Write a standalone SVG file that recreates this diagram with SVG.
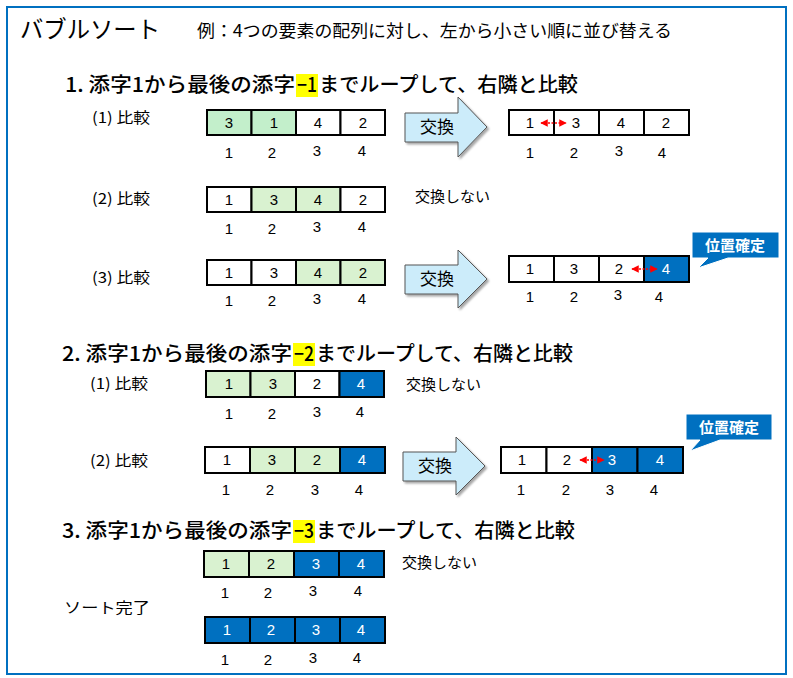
<svg xmlns="http://www.w3.org/2000/svg" width="793" height="678" viewBox="0 0 793 678">
<defs>
<style>
.jp{font-family:"Noto Sans CJK JP","Liberation Sans",sans-serif;fill:#000}
.num{font-family:"Liberation Sans",Arial,sans-serif;font-size:15px;text-anchor:middle;fill:#000}
.wnum{font-family:"Liberation Sans",Arial,sans-serif;font-size:15px;text-anchor:middle;fill:#fff}
.cw{fill:#fff;stroke:#000;stroke-width:2}
.cg{fill:#D9F2D0;stroke:#000;stroke-width:2}
.cg2{fill:#C3EFCB;stroke:#000;stroke-width:2}
.cb{fill:#0070C0;stroke:#000;stroke-width:2}
.arrow{fill:#CCECFA;stroke:#555;stroke-width:1}
.lbl{font-family:"Noto Sans CJK JP","Liberation Sans",sans-serif;font-size:15px;fill:#000}
.head{font-family:"Noto Sans CJK JP","Liberation Sans",sans-serif;font-size:20px;font-weight:500;fill:#000}
.hl{fill:#FFFF00}
.call{fill:#0070C0;stroke:#fff;stroke-width:1}
.calltxt{font-family:"Noto Sans CJK JP","Liberation Sans",sans-serif;font-size:15px;font-weight:bold;fill:#fff;text-anchor:middle}
.swap{stroke:#FF0000;stroke-width:1.5;stroke-dasharray:2 1.5;marker-start:url(#rh);marker-end:url(#rh)}
</style>
<marker id="rh" viewBox="0 0 10 10" refX="9" refY="5" markerWidth="5" markerHeight="5" orient="auto-start-reverse" markerUnits="strokeWidth">
<path d="M0,0 L10,5 L0,10 z" fill="#FF0000"/>
</marker>
<filter id="sh" x="-10%" y="-10%" width="130%" height="130%">
<feDropShadow dx="2" dy="2" stdDeviation="1" flood-color="#000" flood-opacity="0.35"/>
</filter>
</defs>
<rect x="0" y="0" width="793" height="678" fill="#fff"/>
<rect x="7" y="7" width="779" height="667" fill="none" stroke="#0070C0" stroke-width="2"/>

<g id="title">
<text class="jp" x="20" y="38" font-size="24" textLength="140" lengthAdjust="spacingAndGlyphs">バブルソート</text>
<text class="jp" x="197" y="37" font-size="17" textLength="475" lengthAdjust="spacingAndGlyphs">例：4つの要素の配列に対し、左から小さい順に並び替える</text>
</g>

<!-- Heading 1 -->
<g id="heading1">
<rect class="hl" x="296" y="74" width="22" height="23"/>
<text class="head" x="65" y="92" textLength="230" lengthAdjust="spacingAndGlyphs">1. 添字1から最後の添字</text>
<text class="head" x="297" y="92" textLength="20" lengthAdjust="spacingAndGlyphs">−1</text>
<text class="head" x="319" y="92" textLength="259" lengthAdjust="spacingAndGlyphs">までループして、右隣と比較</text>
</g>

<!-- Row 1-1 -->
<g id="r11-label"><text class="lbl" x="92" y="123" textLength="58" lengthAdjust="spacingAndGlyphs">(1) 比較</text></g>
<g id="r11-array">
<rect class="cg2" x="207" y="110" width="44.5" height="25"/>
<rect class="cg2" x="251.5" y="110" width="44.5" height="25"/>
<rect class="cw" x="296" y="110" width="44.5" height="25"/>
<rect class="cw" x="340.5" y="110" width="44.5" height="25"/>
<text class="num" x="229" y="128">3</text><text class="num" x="274" y="128">1</text><text class="num" x="318" y="128">4</text><text class="num" x="363" y="128">2</text>
<text class="num" x="229" y="158">1</text><text class="num" x="272" y="158">2</text><text class="num" x="317" y="156">3</text><text class="num" x="362" y="156">4</text>
</g>
<g id="r11-swap">
<polygon class="arrow" filter="url(#sh)" points="405,113 458,113 458,97 487,127 458,157 458,142 405,142"/>
<text class="jp" x="437" y="133" font-size="17" text-anchor="middle">交換</text>
</g>
<g id="r11-result">
<rect class="cw" x="509" y="110" width="45" height="25"/>
<rect class="cw" x="554" y="110" width="45" height="25"/>
<rect class="cw" x="599" y="110" width="45" height="25"/>
<rect class="cw" x="644" y="110" width="45" height="25"/>
<text class="num" x="530" y="128">1</text><text class="num" x="576" y="128">3</text><text class="num" x="621" y="128">4</text><text class="num" x="666" y="128">2</text>
<text class="num" x="530" y="158">1</text><text class="num" x="574" y="158">2</text><text class="num" x="619" y="156">3</text><text class="num" x="662" y="158">4</text>
</g>

<!-- Row 1-2 -->
<g id="r12-label"><text class="lbl" x="92" y="204" textLength="58" lengthAdjust="spacingAndGlyphs">(2) 比較</text></g>
<g id="r12-array">
<rect class="cw" x="207" y="187" width="44.5" height="25"/>
<rect class="cg" x="251.5" y="187" width="44.5" height="25"/>
<rect class="cg" x="296" y="187" width="44.5" height="25"/>
<rect class="cw" x="340.5" y="187" width="44.5" height="25"/>
<text class="num" x="229" y="205">1</text><text class="num" x="274" y="205">3</text><text class="num" x="318" y="205">4</text><text class="num" x="363" y="205">2</text>
<text class="num" x="229" y="234">1</text><text class="num" x="272" y="234">2</text><text class="num" x="317" y="232">3</text><text class="num" x="362" y="232">4</text>
</g>
<g id="r12-note"><text class="lbl" x="415" y="202" textLength="75" lengthAdjust="spacingAndGlyphs">交換しない</text></g>

<!-- Row 1-3 -->
<g id="r13-label"><text class="lbl" x="92" y="283" textLength="58" lengthAdjust="spacingAndGlyphs">(3) 比較</text></g>
<g id="r13-array">
<rect class="cw" x="207" y="260" width="44.5" height="25"/>
<rect class="cw" x="251.5" y="260" width="44.5" height="25"/>
<rect class="cg" x="296" y="260" width="44.5" height="25"/>
<rect class="cg" x="340.5" y="260" width="44.5" height="25"/>
<text class="num" x="229" y="278">1</text><text class="num" x="274" y="278">3</text><text class="num" x="318" y="278">4</text><text class="num" x="363" y="278">2</text>
<text class="num" x="229" y="306">1</text><text class="num" x="272" y="306">2</text><text class="num" x="317" y="304">3</text><text class="num" x="362" y="304">4</text>
</g>
<g id="r13-swap">
<polygon class="arrow" filter="url(#sh)" points="405,265 458,265 458,250 487,279 458,308 458,294 405,294"/>
<text class="jp" x="437" y="285" font-size="17" text-anchor="middle">交換</text>
</g>
<g id="r13-result">
<rect class="cw" x="509" y="256" width="45" height="26"/>
<rect class="cw" x="554" y="256" width="45" height="26"/>
<rect class="cw" x="599" y="256" width="45" height="26"/>
<rect class="cb" x="644" y="256" width="45" height="26"/>
<text class="num" x="530" y="274">1</text><text class="num" x="574" y="274">3</text><text class="num" x="619" y="274">2</text><text class="wnum" x="666" y="274">4</text>
<text class="num" x="530" y="302">1</text><text class="num" x="574" y="302">2</text><text class="num" x="618" y="300">3</text><text class="num" x="659" y="302">4</text>
</g>
<g id="r13-callout">
<path class="call" d="M692,232 H779 V258 H728 L698,268 L708,258 H692 Z"/>
<text class="calltxt" x="735" y="251">位置確定</text>
</g>

<!-- Heading 2 -->
<g id="heading2">
<rect class="hl" x="293" y="343" width="22" height="23"/>
<text class="head" x="62" y="361" textLength="230" lengthAdjust="spacingAndGlyphs">2. 添字1から最後の添字</text>
<text class="head" x="294" y="361" textLength="20" lengthAdjust="spacingAndGlyphs">−2</text>
<text class="head" x="316" y="361" textLength="257" lengthAdjust="spacingAndGlyphs">までループして、右隣と比較</text>
</g>

<!-- Row 2-1 -->
<g id="r21-label"><text class="lbl" x="90" y="389" textLength="58" lengthAdjust="spacingAndGlyphs">(1) 比較</text></g>
<g id="r21-array">
<rect class="cg" x="206" y="371" width="44.5" height="26"/>
<rect class="cg" x="250.5" y="371" width="44.5" height="26"/>
<rect class="cw" x="295" y="371" width="44.5" height="26"/>
<rect class="cb" x="339.5" y="371" width="44.5" height="26"/>
<text class="num" x="229" y="389">1</text><text class="num" x="273" y="389">3</text><text class="num" x="317" y="389">2</text><text class="wnum" x="361" y="389">4</text>
<text class="num" x="229" y="419">1</text><text class="num" x="272" y="419">2</text><text class="num" x="317" y="417">3</text><text class="num" x="360" y="417">4</text>
</g>
<g id="r21-note"><text class="lbl" x="406" y="390" textLength="75" lengthAdjust="spacingAndGlyphs">交換しない</text></g>

<!-- Row 2-2 -->
<g id="r22-label"><text class="lbl" x="90" y="466" textLength="58" lengthAdjust="spacingAndGlyphs">(2) 比較</text></g>
<g id="r22-array">
<rect class="cw" x="205" y="447" width="45" height="26"/>
<rect class="cg" x="250" y="447" width="45" height="26"/>
<rect class="cg" x="295" y="447" width="45" height="26"/>
<rect class="cb" x="340" y="447" width="45" height="26"/>
<text class="num" x="227" y="465">1</text><text class="num" x="272" y="465">3</text><text class="num" x="317" y="465">2</text><text class="wnum" x="362" y="465">4</text>
<text class="num" x="226" y="495">1</text><text class="num" x="270" y="495">2</text><text class="num" x="315" y="495">3</text><text class="num" x="359" y="495">4</text>
</g>
<g id="r22-swap">
<polygon class="arrow" filter="url(#sh)" points="403,452 456,452 456,437 485,466 456,495 456,481 403,481"/>
<text class="jp" x="435" y="472" font-size="17" text-anchor="middle">交換</text>
</g>
<g id="r22-result">
<rect class="cw" x="501" y="447" width="45.5" height="26"/>
<rect class="cw" x="546.5" y="447" width="45.5" height="26"/>
<rect class="cb" x="592" y="447" width="45.5" height="26"/>
<rect class="cb" x="637.5" y="447" width="45.5" height="26"/>
<text class="num" x="522" y="465">1</text><text class="num" x="567" y="465">2</text><text class="wnum" x="612" y="465">3</text><text class="wnum" x="660" y="465">4</text>
<text class="num" x="521" y="495">1</text><text class="num" x="566" y="495">2</text><text class="num" x="610" y="495">3</text><text class="num" x="654" y="495">4</text>
</g>
<g id="r22-callout">
<path class="call" d="M686,414 H772 V440 H720 L690,451 L700,440 H686 Z"/>
<text class="calltxt" x="729" y="433">位置確定</text>
</g>

<!-- Heading 3 -->
<g id="heading3">
<rect class="hl" x="293" y="520" width="22" height="23"/>
<text class="head" x="62" y="538" textLength="230" lengthAdjust="spacingAndGlyphs">3. 添字1から最後の添字</text>
<text class="head" x="294" y="538" textLength="20" lengthAdjust="spacingAndGlyphs">−3</text>
<text class="head" x="316" y="538" textLength="259" lengthAdjust="spacingAndGlyphs">までループして、右隣と比較</text>
</g>

<!-- Row 3-1 -->
<g id="r31-array">
<rect class="cg" x="204" y="551" width="45" height="26"/>
<rect class="cg" x="249" y="551" width="45" height="26"/>
<rect class="cb" x="294" y="551" width="45" height="26"/>
<rect class="cb" x="339" y="551" width="45" height="26"/>
<text class="num" x="226" y="569">1</text><text class="num" x="271" y="569">2</text><text class="wnum" x="316" y="569">3</text><text class="wnum" x="361" y="569">4</text>
<text class="num" x="225" y="598">1</text><text class="num" x="268" y="598">2</text><text class="num" x="313" y="596">3</text><text class="num" x="358" y="596">4</text>
</g>
<g id="r31-note"><text class="lbl" x="402" y="568" textLength="75" lengthAdjust="spacingAndGlyphs">交換しない</text></g>

<g id="done-label"><text class="lbl" x="64" y="613" font-size="17" textLength="86" lengthAdjust="spacingAndGlyphs">ソート完了</text></g>
<g id="final-array">
<rect class="cb" x="205" y="617" width="45" height="26"/>
<rect class="cb" x="250" y="617" width="45" height="26"/>
<rect class="cb" x="295" y="617" width="45" height="26"/>
<rect class="cb" x="340" y="617" width="45" height="26"/>
<text class="wnum" x="227" y="635">1</text><text class="wnum" x="271" y="635">2</text><text class="wnum" x="316" y="635">3</text><text class="wnum" x="361" y="635">4</text>
<text class="num" x="225" y="665">1</text><text class="num" x="268" y="665">2</text><text class="num" x="313" y="663">3</text><text class="num" x="357" y="663">4</text>
</g>

<g id="connectors">
<line class="swap" x1="541" y1="123" x2="566" y2="123"/>
<line class="swap" x1="632" y1="269" x2="657" y2="269"/>
<line class="swap" x1="580" y1="460" x2="604" y2="460"/>
</g>
</svg>
